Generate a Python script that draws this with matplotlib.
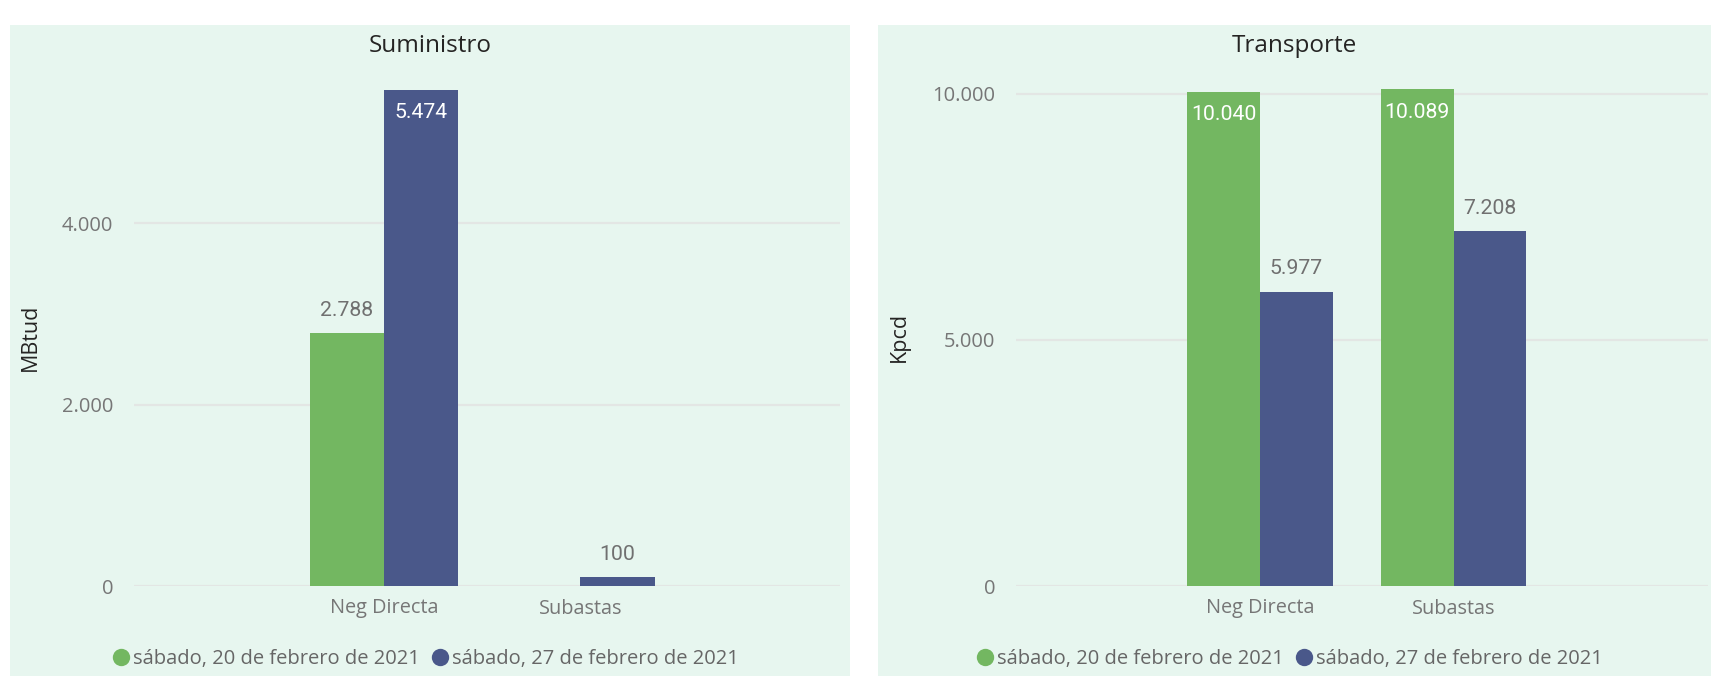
import numpy as np
import matplotlib
matplotlib.use("Agg")
import matplotlib.pyplot as plt
from matplotlib.lines import Line2D

# ---- data ----
categories = ["Neg Directa", "Subastas"]
series_names = ["sábado, 20 de febrero de 2021", "sábado, 27 de febrero de 2021"]
suministro_feb20 = [2788, np.nan]
suministro_feb27 = [5474, 100]
transporte_feb20 = [10040, 10089]
transporte_feb27 = [5977, 7208]
suministro_ticks = [0, 2000, 4000]
transporte_ticks = [0, 5000, 10000]

# ---- style ----
GREEN = "#73B761"
BLUE = "#4A588A"
BG = "#E7F6EF"
GRID = "#E3E6E4"
TICK_C = "#767676"
TITLE_C = "#252423"
FONT = "Open Sans"
NUMFONT = "Roboto"

W, H = 1711, 678
fig = plt.figure(figsize=(W / 100, H / 100), dpi=100)
fig.patch.set_facecolor("white")


def fx(px):
    return px / W


def fy(py):
    return 1 - py / H


def fmt(v):
    return f"{int(round(v)):,}".replace(",", ".")


def panel(x0, x1, ax_x0, ax_x1, xlim, ylim_top, title, ylabel, ylabel_x,
          s1, s2, ticks):
    # panel background
    bg = fig.add_axes([fx(x0), fy(676), fx(x1 - x0), (676 - 25) / H], zorder=-5)
    bg.set_facecolor(BG)
    bg.set_xticks([])
    bg.set_yticks([])
    for s in bg.spines.values():
        s.set_visible(False)

    ax = fig.add_axes([fx(ax_x0), fy(586), fx(ax_x1 - ax_x0), (586 - 80) / H],
                      zorder=1)
    ax.set_facecolor("none")
    x = np.arange(len(categories))
    w = 0.377
    b1 = ax.bar(x - w / 2, s1, width=w, color=GREEN, zorder=3)
    b2 = ax.bar(x + w / 2, s2, width=w, color=BLUE, zorder=3)
    ax.set_xlim(*xlim)
    ax.set_ylim(0, ylim_top)
    ax.set_yticks(ticks)
    ax.set_yticklabels([fmt(t) for t in ticks], fontfamily=FONT, fontsize=14.5,
                       color=TICK_C)
    ax.set_xticks(x)
    ax.set_xticklabels(categories, fontfamily=FONT, fontsize=14.3, color=TICK_C)
    ax.tick_params(axis="y", length=0, pad=15)
    ax.tick_params(axis="x", length=0, pad=9)
    ax.grid(axis="y", color=GRID, linewidth=1.6, zorder=0)
    ax.set_axisbelow(True)
    for s in ax.spines.values():
        s.set_visible(False)
    # data labels
    for bars, vals in ((b1, s1), (b2, s2)):
        for rect, v in zip(bars, vals):
            if v is None or np.isnan(v):
                continue
            cx = rect.get_x() + rect.get_width() / 2
            if v > 0.85 * ylim_top:
                ax.annotate(fmt(v), (cx, v), xytext=(0, -16.5),
                            textcoords="offset points", ha="center", va="center",
                            fontfamily=NUMFONT, fontsize=15.3,
                            color="white", zorder=5)
            else:
                ax.annotate(fmt(v), (cx, v), xytext=(0, 16.5),
                            textcoords="offset points", ha="center", va="center",
                            fontfamily=NUMFONT, fontsize=15.3,
                            color="#707070", zorder=5)
    # title
    fig.text(fx((x0 + x1) / 2), fy(46), title, ha="center", va="center",
             fontfamily=FONT, fontsize=17.5, color=TITLE_C)
    # y label
    fig.text(fx(ylabel_x), fy(337), ylabel, ha="center", va="center",
             rotation=90, fontfamily=FONT, fontsize=15.5, color=TITLE_C)
    # legend
    handles = [Line2D([], [], linestyle="none", marker="o", markersize=12.5,
                      markerfacecolor=c, markeredgecolor="none")
               for c in (GREEN, BLUE)]
    fig.legend(handles, series_names, loc="center",
               bbox_to_anchor=(fx((x0 + x1) / 2 - 5), fy(659)), ncol=2,
               frameon=False, handlelength=0.9, handletextpad=0.15,
               columnspacing=0.55, borderaxespad=0,
               prop={"family": FONT, "size": 14.5}, labelcolor="#666666")
    return ax


panel(10, 850, 134, 840, (-1.272, 2.321), 5579, "Suministro", "MBtud", 30,
      suministro_feb20, suministro_feb27, suministro_ticks)
panel(878, 1711, 1016, 1708, (-1.261, 2.315), 10280, "Transporte", "Kpcd", 899,
      transporte_feb20, transporte_feb27, transporte_ticks)

fig.savefig("out.png", dpi=100, facecolor="white")
